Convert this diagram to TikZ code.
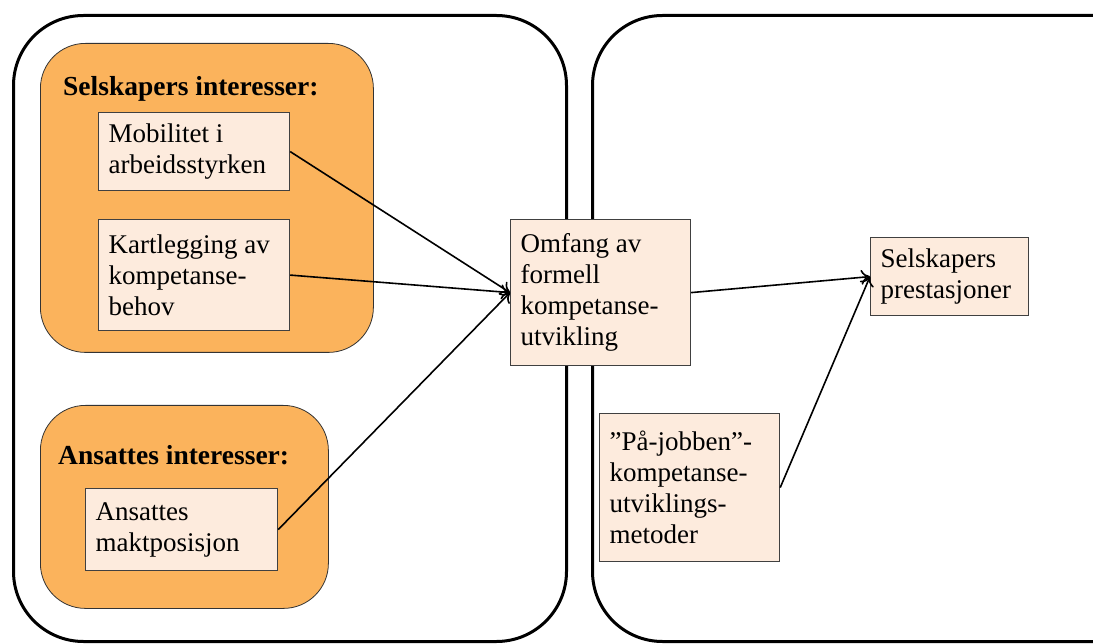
\documentclass[tikz,border=0pt]{standalone}
\usepackage{fontspec}
\setmainfont{Liberation Serif}
\usetikzlibrary{arrows.meta,positioning}
\definecolor{oransje}{HTML}{FBB35C}
\definecolor{fersken}{HTML}{FDEBDD}
\tikzset{
  ramme/.style={draw=black, line width=3pt, rounded corners=70pt, anchor=north west},
  gruppe/.style={draw=black!80, fill=oransje, line width=0.8pt, rounded corners=45pt, anchor=north west},
  tittel/.style={anchor=base west, inner sep=0pt, font=\fontsize{27.5}{31}\selectfont\bfseries},
  faktor/.style={draw=black!75, fill=fersken, line width=1.2pt, align=flush left, inner xsep=10pt, inner ysep=0pt,
    font=\fontsize{27}{31}\selectfont, anchor=north west},
  pil/.style={-{To[length=9pt,width=15pt]}, line width=1.6pt}
}
\begin{document}
\begin{tikzpicture}[x=1pt, y=-1pt]
    \clip (0,0) rectangle (1093,644);
    % store rammer
    \node[ramme, minimum width=553, minimum height=626] (venstre) at (12,14) {};
    \node[ramme, minimum width=600, minimum height=626] (hoyre) at (591,14) {};
    % interessegrupper
    \node[gruppe, minimum width=333, minimum height=309] (selsk) at (40,43) {};
    \node[tittel] (selsktittel) at (63,96) {Selskapers interesser:};
    \node[gruppe, minimum width=288, minimum height=203] (ansatt) at (40,405) {};
    \node[tittel] (ansatttittel) at (58,464) {Ansattes interesser:};
    % faktorer
    \node[faktor, text width=171pt, minimum height=78] (mob) at (98,112) {Mobilitet i\\arbeidsstyrken};
    \node[faktor, text width=171pt, minimum height=111] (kart) at (98,219) {Kartlegging av\\kompetanse-\\behov};
    \node[faktor, text width=172pt, minimum height=82] (makt) at (85,488) {Ansattes\\maktposisjon};
    \node[faktor, text width=160pt, minimum height=146] (omfang) at (510,219) {Omfang av\\formell\\kompetanse-\\utvikling};
    \node[faktor, text width=138pt, minimum height=78] (prest) at (870,237) {Selskapers\\prestasjoner};
    \node[faktor, text width=160pt, minimum height=148] (pajob) at (599,413) {”På-jobben”-\\kompetanse-\\utviklings-\\metoder};
    % piler
    \draw[pil] (mob.east) -- (omfang.west);
    \draw[pil] (kart.east) -- (omfang.west);
    \draw[pil] (makt.east) -- (omfang.west);
    \draw[pil] (omfang.east) -- (prest.west);
    \draw[pil] (pajob.east) -- (prest.west);
\end{tikzpicture}
\end{document}
